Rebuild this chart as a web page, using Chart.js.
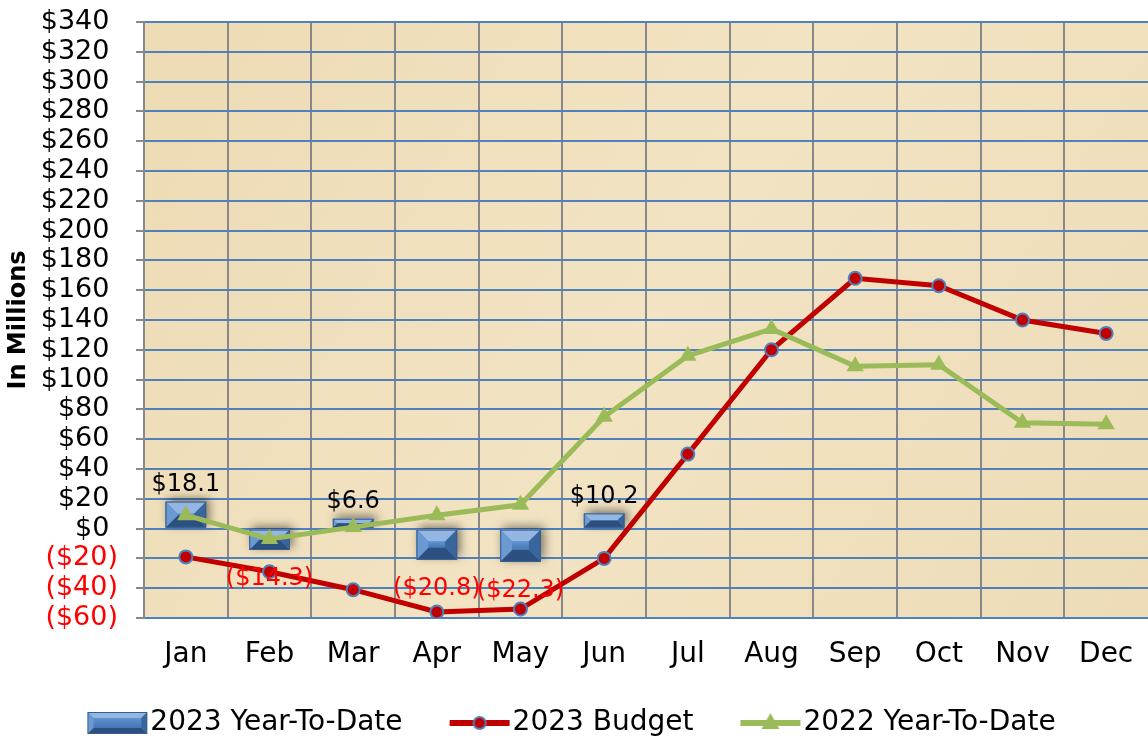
<!DOCTYPE html>
<html>
<head>
<meta charset="utf-8">
<script src="https://cdn.jsdelivr.net/npm/chart.js@4"></script>
<style>
  body { margin: 0; background: #fff; }
  #wrap { width: 1148px; height: 740px; }
</style>
</head>
<body>
<div id="wrap"><canvas id="chartYTD" width="1148" height="740"></canvas></div>
<script>
const months = ["Jan", "Feb", "Mar", "Apr", "May", "Jun", "Jul", "Aug", "Sep", "Oct", "Nov", "Dec"];
const ytd2023 = [18.1, -14.3, 6.6, -20.8, -22.3, 10.2, null, null, null, null, null, null];
const budget2023 = [-19, -29, -41, -56, -54, -20, 50, 120, 168, 163, 140, 131];
const ytd2022 = [9, -7, 1, 9, 16, 75, 116, 134, 109, 110, 71, 70];
const seriesNames = ["2023 Year-To-Date", "2023 Budget", "2022 Year-To-Date"];

const FONT = "'DejaVu Sans', Verdana, sans-serif";

// bevelled box like the excel bar style
function drawBevel(ctx, l, t, r, b, bev) {
    const w = r - l, h = b - t;
    bev = Math.min(bev, w / 2, h / 2);
    ctx.fillStyle = "#4f81bd";
    ctx.fillRect(l, t, w, h);
    const poly = (pts, col) => {
        ctx.beginPath();
        ctx.moveTo(pts[0][0], pts[0][1]);
        for (let i = 1; i < pts.length; i++) ctx.lineTo(pts[i][0], pts[i][1]);
        ctx.closePath();
        ctx.fillStyle = col;
        ctx.fill();
    };
    poly([[l, t], [r, t], [r - bev, t + bev], [l + bev, t + bev]], "#93b6e2");
    poly([[l, b], [r, b], [r - bev, b - bev], [l + bev, b - bev]], "#2b4f7e");
    poly([[l, t], [l + bev, t + bev], [l + bev, b - bev], [l, b]], "#6b99d2");
    poly([[r, t], [r - bev, t + bev], [r - bev, b - bev], [r, b]], "#3a659c");
    const g = ctx.createLinearGradient(0, t + bev, 0, b - bev);
    g.addColorStop(0, "#5f92d2");
    g.addColorStop(1, "#4677b3");
    ctx.fillStyle = g;
    ctx.fillRect(l + bev, t + bev, w - 2 * bev, h - 2 * bev);
    ctx.strokeStyle = "#385d8a";
    ctx.lineWidth = 1;
    ctx.strokeRect(l + 0.5, t + 0.5, w - 1, h - 1);
}

// legend swatches: 100px wide canvas, visible part sits on the right (38..98)
function barSwatch() {
    const c = document.createElement("canvas");
    c.width = 100; c.height = 24;
    drawBevel(c.getContext("2d"), 38, 1, 98, 23, 6);
    return c;
}

function lineSwatch(color, marker) {
    const c = document.createElement("canvas");
    c.width = 100; c.height = 24;
    const ctx = c.getContext("2d");
    ctx.strokeStyle = color;
    ctx.lineWidth = 6;
    ctx.beginPath();
    ctx.moveTo(38, 12);
    ctx.lineTo(98, 12);
    ctx.stroke();
    ctx.beginPath();
    if (marker === "circle") {
        ctx.arc(68, 12, 6, 0, Math.PI * 2);
        ctx.fillStyle = color;
        ctx.fill();
        ctx.strokeStyle = "#4f81bd";
        ctx.lineWidth = 2;
        ctx.stroke();
    } else {
        ctx.moveTo(68, 2);
        ctx.lineTo(77, 18);
        ctx.lineTo(59, 18);
        ctx.closePath();
        ctx.fillStyle = color;
        ctx.fill();
    }
    return c;
}

const swatches = [barSwatch(), lineSwatch("#c00000", "circle"), lineSwatch("#9bbb59", "triangle")];

function money(v) {
    return v < 0 ? "($" + Math.abs(v).toFixed(1) + ")" : "$" + v.toFixed(1);
}

const parchment = {
    id: "parchment",
    beforeDraw(chart) {
        const {ctx, chartArea: a} = chart;
        ctx.save();
        const g = ctx.createLinearGradient(a.left, a.top, a.right, a.bottom);
        g.addColorStop(0, "#eddbb4");
        g.addColorStop(0.5, "#f2e3c3");
        g.addColorStop(1, "#eddcb7");
        ctx.fillStyle = g;
        ctx.fillRect(a.left, a.top, a.right - a.left, a.bottom - a.top);
        ctx.restore();
    }
};

const bevelBars = {
    id: "bevelBars",
    afterDatasetDraw(chart, args) {
        if (args.index !== 0) return;
        const ctx = chart.ctx;
        args.meta.data.forEach((el, i) => {
            if (ytd2023[i] === null) return;
            const l = el.x - el.width / 2, r = el.x + el.width / 2;
            const t = Math.min(el.y, el.base), b = Math.max(el.y, el.base);
            ctx.save();
            ctx.shadowColor = "rgba(0,0,0,0.5)";
            ctx.shadowBlur = 10;
            ctx.shadowOffsetX = 3;
            ctx.shadowOffsetY = -3;
            ctx.fillStyle = "#4f81bd";
            ctx.fillRect(l, t, r - l, b - t);
            ctx.restore();
            ctx.save();
            drawBevel(ctx, l, t, r, b, 12);
            ctx.restore();
        });
    }
};

const barLabels = {
    id: "barLabels",
    afterDatasetsDraw(chart) {
        const ctx = chart.ctx;
        const meta = chart.getDatasetMeta(0);
        ctx.save();
        ctx.font = "24px " + FONT;
        ctx.textAlign = "center";
        ctx.textBaseline = "middle";
        meta.data.forEach((el, i) => {
            const v = ytd2023[i];
            if (v === null) return;
            ctx.fillStyle = v < 0 ? "#ff0000" : "#000000";
            ctx.fillText(money(v), el.x, v < 0 ? el.y + 29 : el.y - 17);
        });
        ctx.restore();
    }
};

// nudge the legend a bit left so its visible part is centred like the original
const legendShift = {
    id: "legendShift",
    afterLayout(chart) {
        if (chart.legend) {
            chart.legend.left -= 15;
            chart.legend.right -= 15;
        }
    }
};

const data = {
    labels: months,
    datasets: [
        {
            type: "bar",
            label: seriesNames[0],
            data: ytd2023,
            backgroundColor: "rgba(0,0,0,0)",
            borderWidth: 0,
            categoryPercentage: 0.5,
            barPercentage: 0.97,
            order: 3
        },
        {
            type: "line",
            label: seriesNames[1],
            data: budget2023,
            borderColor: "#c00000",
            backgroundColor: "#c00000",
            borderWidth: 5,
            pointStyle: "circle",
            pointRadius: 6.5,
            pointBorderWidth: 2,
            pointBorderColor: "#4f81bd",
            pointBackgroundColor: "#c00000",
            tension: 0,
            order: 2
        },
        {
            type: "line",
            label: seriesNames[2],
            data: ytd2022,
            borderColor: "#9bbb59",
            backgroundColor: "#9bbb59",
            borderWidth: 5,
            pointStyle: "triangle",
            pointRadius: 10,
            pointBorderWidth: 0,
            pointBackgroundColor: "#9bbb59",
            tension: 0,
            order: 1
        }
    ]
};

const config = {
    type: "bar",
    data,
    options: {
        responsive: false,
        animation: false,
        devicePixelRatio: 1,
        layout: { autoPadding: false, padding: { top: 22, right: 0, left: 0, bottom: -7 } },
        scales: {
            x: {
                grid: {
                    // no line on the far right edge
                    color: (c) => (c.type === "tick" ? "#888888" : "rgba(0,0,0,0)"),
                    lineWidth: 2,
                    drawTicks: true,
                    tickLength: 18,
                    tickColor: "rgba(0,0,0,0)",
                    offset: true
                },
                border: { color: "#4f81bd", width: 2 },
                ticks: { color: "#000", font: { family: FONT, size: 28 }, padding: 2, maxRotation: 0, autoSkip: false },
                afterFit(scale) {
                    scale.height = 69;
                    scale.paddingLeft = 0;
                    scale.paddingRight = 0;
                }
            },
            y: {
                min: -60,
                max: 340,
                grid: { color: "#4f81bd", lineWidth: 2, tickColor: "#888888", tickLength: 8 },
                border: { color: "#888888", width: 2 },
                ticks: {
                    stepSize: 20,
                    autoSkip: false,
                    padding: 18,
                    font: { family: FONT, size: 27 },
                    color: (c) => (c.tick && c.tick.value < 0 ? "#ff0000" : "#000000"),
                    callback: (v) => (v < 0 ? "($" + Math.abs(v) + ")" : "$" + v + " ")
                },
                title: {
                    display: true,
                    text: "In Millions",
                    color: "#000",
                    font: { family: FONT, size: 24, weight: "bold" },
                    padding: { top: 4, bottom: 0 }
                },
                afterFit(scale) {
                    scale.width = 144;
                    scale.paddingTop = 0;
                    scale.paddingBottom = 0;
                }
            }
        },
        plugins: {
            tooltip: { enabled: false },
            legend: {
                position: "bottom",
                labels: {
                    color: "#000",
                    font: { family: FONT, size: 28 },
                    usePointStyle: true,
                    pointStyleWidth: 74,
                    padding: 22,
                    sort: (a, b) => a.datasetIndex - b.datasetIndex,
                    generateLabels(chart) {
                        const items = Chart.defaults.plugins.legend.labels.generateLabels(chart);
                        items.forEach((it) => { it.pointStyle = swatches[it.datasetIndex]; it.rotation = 0; });
                        return items;
                    }
                }
            }
        }
    },
    plugins: [parchment, bevelBars, barLabels, legendShift]
};

var chartYTD = new Chart(document.getElementById("chartYTD"), config);
</script>
</body>
</html>
